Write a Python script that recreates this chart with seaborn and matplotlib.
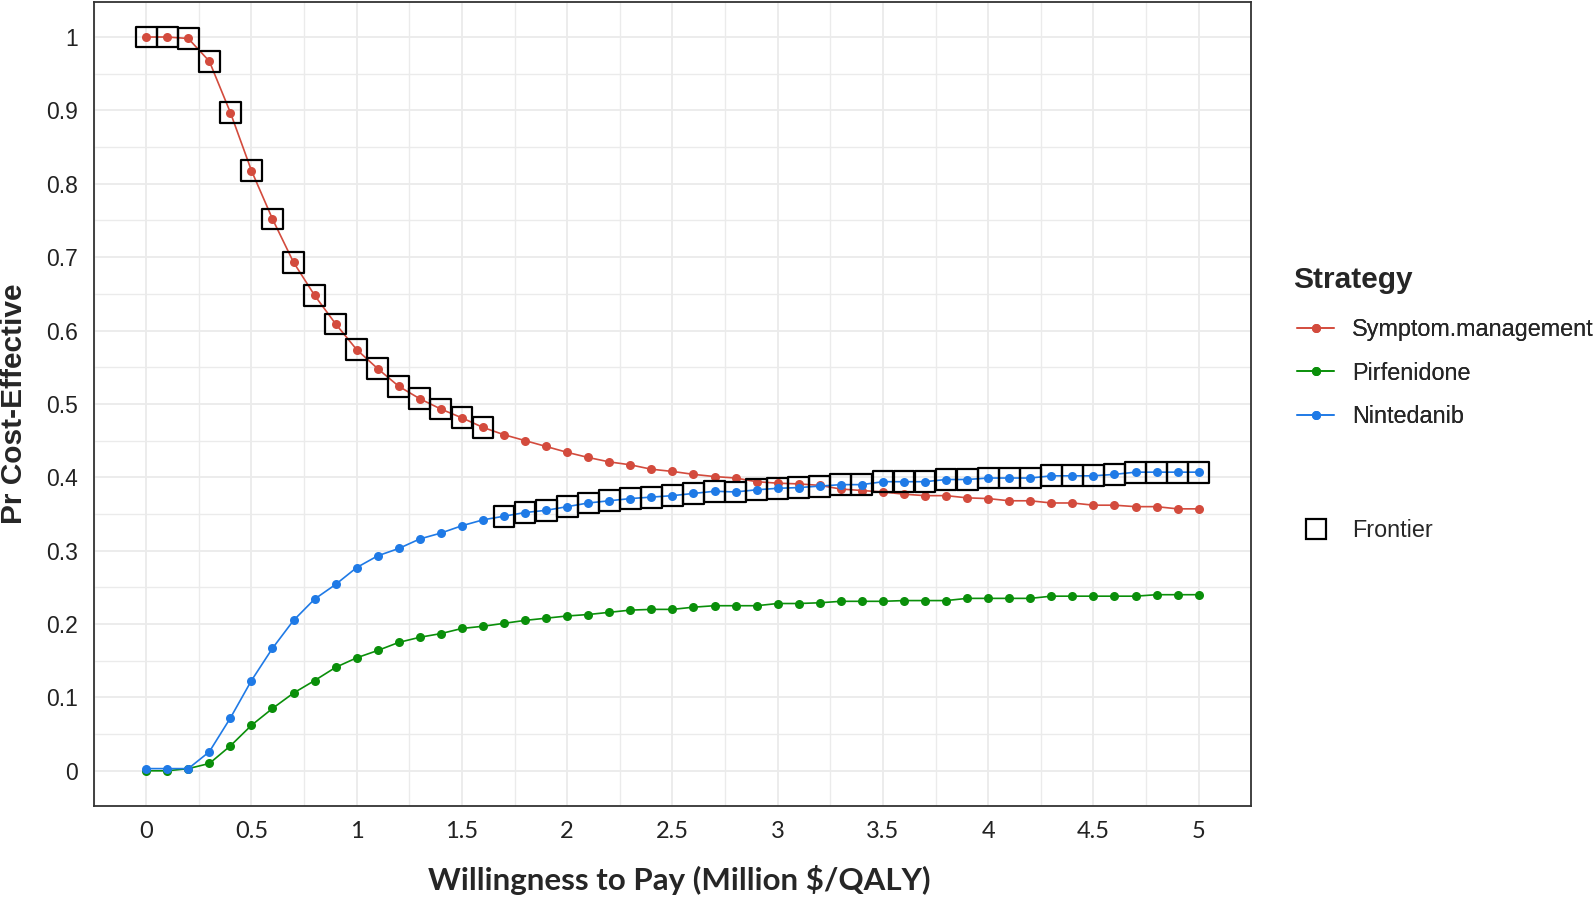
import numpy as np
import matplotlib
matplotlib.use("Agg")
import matplotlib.pyplot as plt
from matplotlib.lines import Line2D
import pandas as pd
import seaborn as sns

# willingness to pay (million $/QALY)
wtp = [0.0, 0.1, 0.2, 0.3, 0.4, 0.5, 0.6, 0.7, 0.8, 0.9,
       1.0, 1.1, 1.2, 1.3, 1.4, 1.5, 1.6, 1.7, 1.8, 1.9,
       2.0, 2.1, 2.2, 2.3, 2.4, 2.5, 2.6, 2.7, 2.8, 2.9,
       3.0, 3.1, 3.2, 3.3, 3.4, 3.5, 3.6, 3.7, 3.8, 3.9,
       4.0, 4.1, 4.2, 4.3, 4.4, 4.5, 4.6, 4.7, 4.8, 4.9, 5.0]

symptom = [1.000, 1.000, 0.998, 0.967, 0.897, 0.818, 0.752, 0.693, 0.648, 0.609,
           0.574, 0.548, 0.524, 0.507, 0.493, 0.481, 0.468, 0.458, 0.450, 0.442,
           0.434, 0.427, 0.421, 0.417, 0.411, 0.408, 0.404, 0.401, 0.399, 0.394,
           0.392, 0.391, 0.389, 0.384, 0.382, 0.380, 0.377, 0.375, 0.375, 0.372,
           0.371, 0.368, 0.368, 0.365, 0.365, 0.362, 0.362, 0.360, 0.360, 0.357, 0.357]

pirfenidone = [0.000, 0.000, 0.003, 0.010, 0.034, 0.062, 0.085, 0.106, 0.123, 0.141,
               0.154, 0.164, 0.175, 0.182, 0.187, 0.194, 0.197, 0.201, 0.205, 0.208,
               0.211, 0.213, 0.216, 0.219, 0.220, 0.220, 0.223, 0.225, 0.225, 0.225,
               0.228, 0.228, 0.229, 0.231, 0.231, 0.231, 0.232, 0.232, 0.232, 0.235,
               0.235, 0.235, 0.235, 0.238, 0.238, 0.238, 0.238, 0.238, 0.240, 0.240, 0.240]

nintedanib = [0.003, 0.003, 0.003, 0.026, 0.072, 0.123, 0.167, 0.205, 0.234, 0.254,
              0.277, 0.293, 0.303, 0.316, 0.324, 0.334, 0.342, 0.347, 0.352, 0.355,
              0.360, 0.365, 0.368, 0.371, 0.373, 0.375, 0.378, 0.381, 0.380, 0.383,
              0.385, 0.386, 0.388, 0.390, 0.390, 0.394, 0.394, 0.394, 0.397, 0.397,
              0.399, 0.399, 0.399, 0.402, 0.402, 0.402, 0.404, 0.407, 0.407, 0.407, 0.407]

# which strategy is on the frontier at each wtp
frontier = ["Symptom.management"] * 17 + ["Nintedanib"] * 34

strategies = ["Symptom.management", "Pirfenidone", "Nintedanib"]
colors = ["#D34B3D", "#0A8F0A", "#1F7AE6"]

x_ticks = [0, 0.5, 1, 1.5, 2, 2.5, 3, 3.5, 4, 4.5, 5]
x_labels = ["0", "0.5", "1", "1.5", "2", "2.5", "3", "3.5", "4", "4.5", "5"]
y_ticks = [0, 0.1, 0.2, 0.3, 0.4, 0.5, 0.6, 0.7, 0.8, 0.9, 1]
y_labels = ["0", "0.1", "0.2", "0.3", "0.4", "0.5", "0.6", "0.7", "0.8", "0.9", "1"]

df = pd.DataFrame({
    "wtp": wtp * 3,
    "prob": symptom + pirfenidone + nintedanib,
    "strategy": [strategies[0]] * len(wtp) + [strategies[1]] * len(wtp) + [strategies[2]] * len(wtp),
})
front = df[df.apply(lambda r: frontier[wtp.index(r["wtp"])] == r["strategy"], axis=1)]

sns.set_style("white")
plt.rcParams["font.family"] = ["Liberation Sans", "DejaVu Sans"]

fig, ax = plt.subplots(figsize=(15.94, 9), dpi=100)
fig.subplots_adjust(left=0.0587, right=0.785, bottom=0.1044, top=0.998)

ax.set_xticks(np.arange(-0.25, 5.3, 0.25), minor=True)
ax.set_yticks(np.arange(-0.05, 1.06, 0.05), minor=True)
ax.grid(True, which="major", color="#EBEBEB", linewidth=1.3, zorder=0)
ax.grid(True, which="minor", color="#EBEBEB", linewidth=1.0, zorder=0)
ax.set_axisbelow(True)

sns.lineplot(data=df, x="wtp", y="prob", hue="strategy", hue_order=strategies,
             palette=colors, marker="o", markersize=6.5, markeredgewidth=0,
             linewidth=1.2, legend=False, ax=ax, zorder=3)
sns.scatterplot(data=front, x="wtp", y="prob", marker="s", s=225,
                facecolor="none", edgecolor="black", linewidth=1.6,
                legend=False, ax=ax, zorder=4)

ax.set_xlim(-0.25, 5.25)
ax.set_ylim(-0.048, 1.048)
ax.set_xticks(x_ticks)
ax.set_xticklabels(x_labels, family=["Lato", "DejaVu Sans"], fontsize=17)
ax.set_yticks(y_ticks)
ax.set_yticklabels(y_labels, fontsize=16.5)
ax.tick_params(axis="both", which="major", length=5, width=1.2, color="#333333",
               labelcolor="#222222", pad=6, direction="out")
ax.tick_params(axis="both", which="minor", length=0)
for s in ax.spines.values():
    s.set_color("#333333")
    s.set_linewidth(1.3)

ax.set_xlabel("Willingness to Pay (Million $/QALY)", fontsize=22.5, fontweight="bold",
              family=["Lato", "DejaVu Sans"])
ax.xaxis.label.set_va("center")
ax.xaxis.set_label_coords(0.506, -0.092)
ax.set_ylabel("Pr Cost-Effective", fontsize=21.5, fontweight="bold")
ax.yaxis.label.set_va("center")
ax.yaxis.set_label_coords(-0.0687, 0.5)

# legend: strategy entries
fig.text(1293 / 1594, 1 - 280 / 900, "Strategy", fontsize=21.5, fontweight="bold",
         ha="left", va="center")
handles = [Line2D([0], [0], color=c, marker="o", markersize=6.5, markeredgewidth=0,
                  linewidth=1.2) for c in colors]
leg1 = fig.legend(handles, strategies, loc="center left",
                  bbox_to_anchor=(1276 / 1594, 1 - 373 / 900), frameon=False,
                  fontsize=16.8, labelspacing=0.88,
                  handlelength=1.6, handletextpad=0.75)
fh = [Line2D([0], [0], color="black", marker="s", markersize=15, markerfacecolor="none",
             markeredgewidth=1.6, linestyle="none")]
leg2 = fig.legend(fh, ["Frontier"], loc="center left",
                  bbox_to_anchor=(1276 / 1594, 1 - 530.5 / 900), frameon=False,
                  fontsize=16.8, handlelength=1.6, handletextpad=0.75)
fig.add_artist(leg1)

fig.savefig("out.png", dpi=100)
